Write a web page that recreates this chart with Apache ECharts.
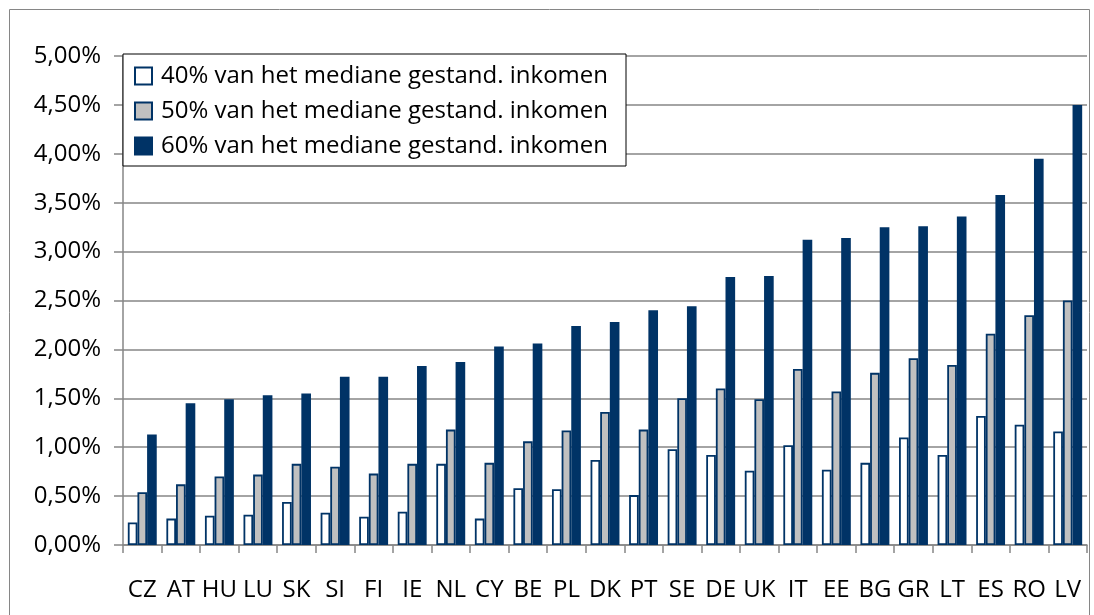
<!DOCTYPE html>
<html>
<head>
<meta charset="utf-8">
<script src="https://cdn.jsdelivr.net/npm/echarts@6/dist/echarts.min.js"></script>
<style>
  html, body { margin: 0; padding: 0; background: #fff; }
  #main { width: 1094px; height: 615px; }
</style>
</head>
<body>
<div id="main"></div>
<script>
var countries = ['CZ', 'AT', 'HU', 'LU', 'SK', 'SI', 'FI', 'IE', 'NL', 'CY', 'BE', 'PL', 'DK',
    'PT', 'SE', 'DE', 'UK', 'IT', 'EE', 'BG', 'GR', 'LT', 'ES', 'RO', 'LV']
var seriesNames = ['40% van het mediane gestand. inkomen',
    '50% van het mediane gestand. inkomen',
    '60% van het mediane gestand. inkomen']
// percentages
var pct40 = [0.23, 0.27, 0.30, 0.31, 0.44, 0.33, 0.29, 0.34, 0.83, 0.27, 0.58, 0.57, 0.87,
    0.51, 0.98, 0.92, 0.76, 1.02, 0.77, 0.84, 1.10, 0.92, 1.32, 1.23, 1.16]
var pct50 = [0.54, 0.62, 0.70, 0.72, 0.83, 0.80, 0.73, 0.83, 1.18, 0.84, 1.06, 1.17, 1.36,
    1.18, 1.50, 1.60, 1.49, 1.80, 1.57, 1.76, 1.91, 1.84, 2.16, 2.35, 2.50]
var pct60 = [1.13, 1.45, 1.49, 1.53, 1.55, 1.72, 1.72, 1.83, 1.87, 2.03, 2.06, 2.24, 2.28,
    2.40, 2.44, 2.74, 2.75, 3.12, 3.14, 3.25, 3.26, 3.36, 3.58, 3.95, 4.50]

var navy = '#003366'
var axisGrey = '#868686'
var font = 'Open Sans'

var chart = echarts.init(document.getElementById('main'))

function barSeries(name, data, fill) {
    return {
        name: name,
        type: 'bar',
        data: data,
        barGap: '0%',
        barCategoryGap: '25%',
        itemStyle: { color: fill, borderColor: navy, borderWidth: 1.8 }
    }
}

chart.setOption({
    animation: false,
    backgroundColor: '#fff',
    textStyle: { fontFamily: font },
    graphic: [{
        type: 'rect',
        shape: { x: 9.5, y: 9.5, width: 1080, height: 620 },
        style: { fill: 'none', stroke: axisGrey, lineWidth: 1 },
        z: -1
    }],
    grid: { left: 123, right: 7, top: 56, bottom: 70 },
    legend: {
        orient: 'vertical',
        left: 123,
        top: 54,
        backgroundColor: '#fff',
        borderColor: '#000',
        borderWidth: 1,
        padding: [10, 18, 8, 11],
        icon: 'rect',
        itemWidth: 17,
        itemHeight: 17,
        itemGap: 11,
        textStyle: { fontFamily: font, fontSize: 24, color: '#000', padding: [0, 0, 0, 4] },
        data: seriesNames
    },
    xAxis: {
        type: 'category',
        data: countries,
        axisLine: { lineStyle: { color: axisGrey, width: 1.5 } },
        axisTick: { show: true, length: 8, lineStyle: { color: axisGrey, width: 1.5 } },
        axisLabel: { color: '#000', fontSize: 24, margin: 33, interval: 0, fontFamily: font }
    },
    yAxis: {
        type: 'value',
        min: 0,
        max: 5,
        interval: 0.5,
        axisLine: { show: true, lineStyle: { color: axisGrey, width: 1.5 } },
        axisTick: { show: true, length: 9, lineStyle: { color: axisGrey, width: 1.5 } },
        splitLine: { lineStyle: { color: axisGrey, width: 1.5 } },
        axisLabel: {
            color: '#000', fontSize: 24, margin: 22, fontFamily: font,
            formatter: function (v) { return v.toFixed(2).replace('.', ',') + '%' }
        }
    },
    series: [
        barSeries(seriesNames[0], pct40, '#ffffff'),
        barSeries(seriesNames[1], pct50, '#c0c0c0'),
        barSeries(seriesNames[2], pct60, navy)
    ]
})
</script>
</body>
</html>
